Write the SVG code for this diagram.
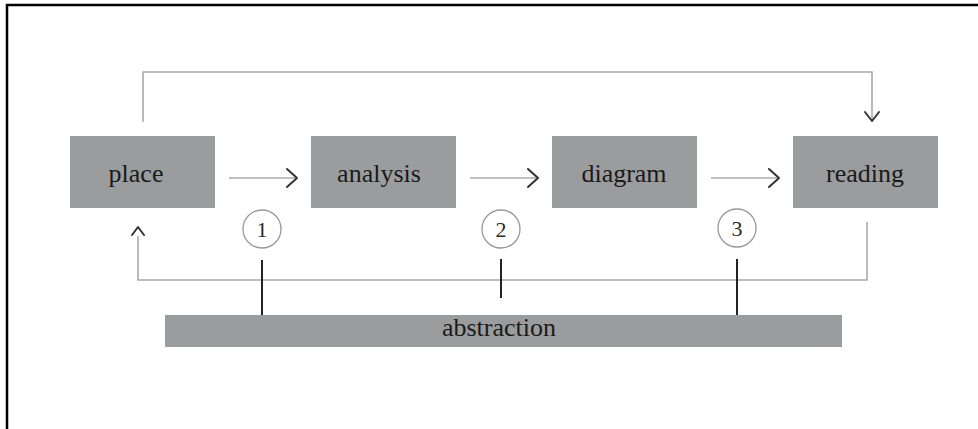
<svg xmlns="http://www.w3.org/2000/svg" width="978" height="429" viewBox="0 0 978 429">
<style>
.box{fill:#9b9c9e}
.lbl{font-family:"Liberation Serif",serif;font-size:26px;fill:#1a1a1a;text-anchor:middle}
.num{font-family:"Liberation Serif",serif;font-size:22px;fill:#2a2a2a;text-anchor:middle}
.thin{fill:none;stroke:#aaa;stroke-width:1.6}
.head{fill:none;stroke:#333;stroke-width:2;stroke-linecap:round;stroke-linejoin:round}
.tick{stroke:#222;stroke-width:2}
.circ{fill:#fff;stroke:#999;stroke-width:1.3}
</style>
<rect width="978" height="429" fill="#fff"/>
<path d="M7,429 V5 H978" fill="none" stroke="#000" stroke-width="2.5"/>
<g id="connectors">
  <path class="thin" d="M143,122 V72 H872 V120"/>
  <path class="head" d="M865,112 L872,121 L879,112"/>
  <path class="thin" d="M867,222 V280 H138 V236"/>
  <path class="head" d="M132,235 L138,227 L144,235"/>
  <line class="thin" x1="229" y1="178" x2="295" y2="178"/>
  <path class="head" d="M287,169 L297,178 L287,187"/>
  <line class="thin" x1="470" y1="178" x2="536" y2="178"/>
  <path class="head" d="M528,169 L538,178 L528,187"/>
  <line class="thin" x1="711" y1="178" x2="777" y2="178"/>
  <path class="head" d="M769,169 L779,178 L769,187"/>
  <line class="tick" x1="262" y1="260" x2="262" y2="335"/>
  <line class="tick" x1="501" y1="259" x2="501" y2="298"/>
  <line class="tick" x1="737" y1="259" x2="737" y2="332"/>
</g>
<g id="place"><rect class="box" x="70" y="136" width="145" height="72"/><text class="lbl" x="136" y="182">place</text></g>
<g id="analysis"><rect class="box" x="311" y="136" width="145" height="72"/><text class="lbl" x="379" y="182">analysis</text></g>
<g id="diagram"><rect class="box" x="552" y="136" width="145" height="72"/><text class="lbl" x="624" y="182">diagram</text></g>
<g id="reading"><rect class="box" x="793" y="136" width="145" height="72"/><text class="lbl" x="865" y="182">reading</text></g>
<g id="abstraction"><rect class="box" x="165" y="315" width="677" height="32"/><text class="lbl" x="499" y="336">abstraction</text></g>
<g id="c1"><circle class="circ" cx="262" cy="229" r="19"/><text class="num" x="262" y="237">1</text></g>
<g id="c2"><circle class="circ" cx="501" cy="229" r="19"/><text class="num" x="501" y="237">2</text></g>
<g id="c3"><circle class="circ" cx="737" cy="228" r="19"/><text class="num" x="737" y="236">3</text></g>
</svg>
